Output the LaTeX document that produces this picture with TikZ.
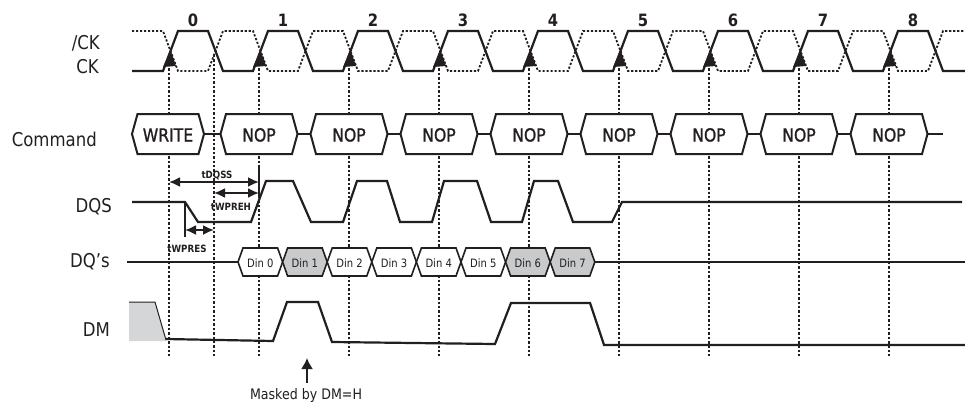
\documentclass[tikz,border=0pt]{standalone}
\usepackage{fontspec}
\setmainfont{DejaVu Sans}[FakeStretch=0.87]
\newfontfamily\cmdfont{DejaVu Sans}[FakeStretch=0.87,FakeBold=1.2]
\usetikzlibrary{arrows.meta}
\definecolor{ink}{HTML}{231F20}
\definecolor{dingray}{HTML}{C8CACC}
\definecolor{dmgray}{HTML}{D4D6D8}
\begin{document}
\begin{tikzpicture}[x=1pt,y=-1pt,
  wave/.style={draw=ink,line width=2.2pt},
  ckdot/.style={draw=ink,line width=1.8pt,dash pattern=on 2.2pt off 1.8pt},
  guide/.style={draw=ink,line width=1.8pt,dash pattern=on 2.4pt off 2pt},
  hexbox/.style={draw=ink,line width=2pt,fill=white},
  dinbox/.style={draw=ink,line width=1.6pt},
  dimarrow/.style={draw=ink,line width=1.8pt,{Latex[length=11pt,width=10pt]}-{Latex[length=11pt,width=10pt]}},
  lbl/.style={font=\fontsize{19}{22}\selectfont,text=ink,inner sep=0pt,anchor=base east},
  num/.style={font=\fontsize{17}{20}\selectfont\bfseries,text=ink,inner sep=0pt,anchor=base},
  cmd/.style={font=\fontsize{18}{20}\cmdfont,text=ink,inner sep=0pt,anchor=base},
  din/.style={font=\fontsize{11.5}{13}\selectfont,text=ink,inner sep=0pt,anchor=base},
  tlab/.style={font=\fontsize{10}{11}\selectfont\bfseries,text=ink,inner sep=0pt,anchor=base},
  note/.style={font=\fontsize{14.5}{16}\selectfont,text=ink,inner sep=0pt,anchor=base},
]
\useasboundingbox (0,0) rectangle (965,404);
\fill[white] (0,0) rectangle (965,404);

% left labels
\node[lbl] (lnck) at (100,49) {/CK};
\node[lbl] (lck) at (99,73) {CK};
\node[lbl] (lcmd) at (97,146) {Command};
\node[lbl] (ldqs) at (112,212) {DQS};
\node[lbl] (ldq) at (110,267) {DQ’s};
\node[lbl] (ldm) at (110,336) {DM};

% clock numbers
\foreach \k in {0,...,8} \node[num] (n\k) at ({169+90*\k+24},27) {\k};

% guide lines
\foreach \k in {0,...,8} \draw[guide] ({169+90*\k},64) -- ({169+90*\k},356);
\draw[guide] (214,55) -- (214,356);

% /CK dotted and CK solid
\draw[ckdot] (132,31) \foreach \k in {0,...,8}{ -- ({169+90*\k-6},31) -- ({169+90*\k+9},71) -- ({169+90*\k+39},71) -- ({169+90*\k+54},31) } -- (965,31);
\draw[wave] (132,71) \foreach \k in {0,...,8}{ -- ({169+90*\k-6},71) -- ({169+90*\k+9},31) -- ({169+90*\k+39},31) -- ({169+90*\k+54},71) } -- (965,71);
% sampling arrowheads on CK rising edges
\foreach \k in {0,...,8} \fill[ink] ({169+90*\k+1.5},50) -- ({169+90*\k-6},67) -- ({169+90*\k+7},66) -- cycle;

% command row
\draw[hexbox] (132,134) -- (137.5,114) -- (198.5,114) -- (204,134) -- (198.5,154) -- (137.5,154) -- cycle;
\node[cmd] (cw) at (168,141.5) {WRITE};
\draw[ink,line width=2pt] (204,134) -- (220.5,134);
\foreach \k in {1,...,8}{
  \draw[hexbox] ({169+90*\k-38.5},134) -- ({169+90*\k-33},114) -- ({169+90*\k+33},114) -- ({169+90*\k+38.5},134) -- ({169+90*\k+33},154) -- ({169+90*\k-33},154) -- cycle;
  \node[cmd] (c\k) at ({169+90*\k},141.5) {NOP};
}
\foreach \k in {1,...,7} \draw[ink,line width=2pt] ({169+90*\k+38.5},134) -- ({169+90*\k+51.5},134);
\draw[ink,line width=2pt] (927.5,134) -- (943,134);

% DQS
\draw[wave] (132,202) -- (185,202) -- (198,222) -- (251,222) -- (266,181) -- (293,181) -- (311,222)
  -- (343,222) -- (357,181) -- (387,181) -- (400,222)
  -- (432,222) -- (444,181) -- (477,181) -- (491,222)
  -- (522,222) -- (534,181) -- (558,181) -- (573,222)
  -- (612,222) -- (622,202) -- (962,202);

% timing dimensions
\draw[ink,line width=1.8pt] (259,165) -- (259,197);
\draw[ink,line width=1.8pt] (185,202) -- (185,237);
\coordinate (dqA) at (169,182);
\coordinate (dqB) at (259,182);
\coordinate (whA) at (214,193);
\coordinate (whB) at (259,193);
\coordinate (wsA) at (185,230);
\coordinate (wsB) at (214,230);
\draw[dimarrow] (dqA) -- (dqB);
\draw[dimarrow] (whA) -- (whB);
\draw[dimarrow] (wsA) -- (wsB);
\node[tlab] (ttdqss) at (217,178) {tDQSS};
\node[tlab] (ttwpreh) at (231,210) {tWPREH};
\node[tlab] (ttwpres) at (187,252) {tWPRES};

% DQ row
\draw[wave] (127,262) -- (238,262);
\draw[wave] (594.8,262) -- (965,262);
\foreach \i/\f in {0/white,1/dingray,2/white,3/white,4/white,5/white,6/dingray,7/dingray}{
  \pgfmathsetmacro\bl{238+44.6*\i}
  \pgfmathsetmacro\br{238+44.6*(\i+1)}
  \draw[dinbox,fill=\f] (\bl,262) -- (\bl+5,248) -- (\br-5,248) -- (\br,262) -- (\br-5,276) -- (\bl+5,276) -- cycle;
  \node[din] (d\i) at ({(\bl+\br)/2},267.5) {Din \i};
}

% DM row
\fill[dmgray] (129,302) -- (155,302) -- (166,341) -- (129,341) -- cycle;
\draw[ink,line width=1pt] (129,302) -- (155,302) -- (166,340);
\draw[wave] (166,339) -- (273,341) -- (287,302) -- (318,302) -- (332,342) -- (495,344) -- (511,303) -- (590,303) -- (604,345) -- (965,345);

% masked note
\coordinate (mkA) at (307,383);
\coordinate (mkB) at (307,358);
\draw[ink,line width=1.8pt,-{Latex[length=11pt,width=12pt]}] (mkA) -- (mkB);
\node[note] (mask) at (306,399) {Masked by DM=H};
\end{tikzpicture}
\end{document}
